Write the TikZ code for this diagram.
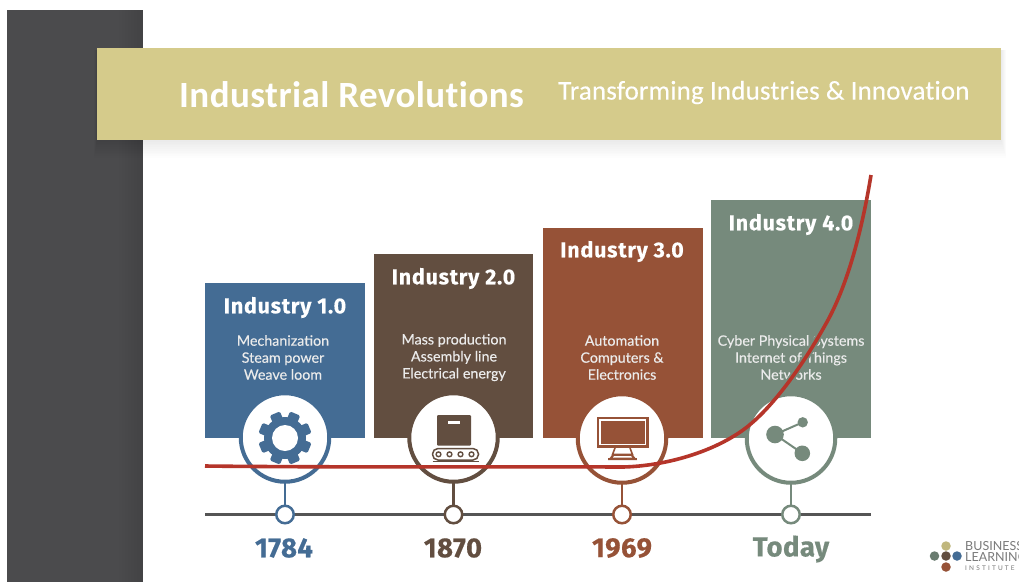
\documentclass[tikz,border=0pt]{standalone}
\usepackage{fontspec}
\setmainfont{Lato}
\newfontfamily\bodyfont{Lato}[FakeBold=0.25]
\newfontfamily\headfont{Fira Sans}[LetterSpace=3.5,BoldFeatures={FakeBold=0.3}]
\newfontfamily\yearfont{Fira Sans}[LetterSpace=1.5,BoldFeatures={FakeBold=0.5}]
\newfontfamily\bannerfont{Carlito}[Ligatures=NoCommon,LetterSpace=1.2]
\newfontfamily\subbannerfont{Carlito}[Ligatures=NoCommon,LetterSpace=0.6,FakeBold=0.3]
\usetikzlibrary{calc}
\definecolor{cblue}{HTML}{446C94}
\definecolor{cbrown}{HTML}{624E40}
\definecolor{crust}{HTML}{965237}
\definecolor{cgreen}{HTML}{768A7C}
\definecolor{cbanner}{HTML}{D5CB8B}
\definecolor{cdark}{HTML}{4B4B4D}
\definecolor{cline}{HTML}{555555}
\definecolor{cred}{HTML}{B5352A}
\definecolor{clogo}{HTML}{7A7A7A}
\tikzset{
  era/.style={rectangle,fill=#1,draw=none,inner sep=0,outer sep=0,anchor=south west},
  eratitle/.style={text=white,font=\headfont\bfseries\fontsize{21.5}{23}\selectfont,inner sep=0},
  erabody/.style={text=white!92!black,font=\bodyfont\fontsize{14.3}{17}\selectfont,align=center,inner sep=0},
  hub/.style={circle,draw=#1,fill=white,line width=4pt,minimum size=88.5pt,inner sep=0,outer sep=0},
  tick/.style={circle,draw=#1,fill=white,line width=2.5pt,minimum size=17.5pt,inner sep=0,outer sep=0},
  stem/.style={draw=#1,line width=2.4pt},
  yearlabel/.style={text=#1,font=\yearfont\bfseries\fontsize{27.5}{29}\selectfont,inner sep=0},
  dot/.style={circle,fill=#1,inner sep=0,minimum size=9.5pt},
  logotext/.style={text=clogo,font=\fontsize{12.5}{13}\selectfont,anchor=west,inner sep=0},
}
\begin{document}
\begin{tikzpicture}[x=1pt,y=-1pt]
\useasboundingbox (0,0) rectangle (1019,582);
\clip (0,0) rectangle (1019,582);
\fill[white] (0,0) rectangle (1019,582);
% left panel
\node[rectangle,fill=cdark,inner sep=0,minimum width=136pt,minimum height=572pt,anchor=north west] (panel) at (7,10) {};
\foreach \i in {1,...,8}{\fill[black,opacity=0.012] ($(panel.north east)+(-3*\i,0)$) rectangle (panel.south east);}
% banner shadow
\foreach \i in {1,...,10}{\fill[black,opacity=0.009] (97-\i*0.3,50) rectangle (1001+\i*0.5,140+\i*1.8);}
\node[rectangle,fill=cbanner,inner sep=0,minimum width=904pt,minimum height=92pt,anchor=north west] (banner) at (97,48) {};
\node[text=white,font=\bannerfont\bfseries\fontsize{37}{39}\selectfont,inner sep=0,anchor=west] (title) at (179,95) {Industrial Revolutions};
\node[text=white,font=\subbannerfont\fontsize{27}{29}\selectfont,inner sep=0,anchor=west] (subtitle) at (558,92.5) {Transforming Industries \& Innovation};
% era boxes
\node[era=cblue,minimum width=160pt,minimum height=155pt] (box1) at (205,438) {};
\node[era=cbrown,minimum width=159pt,minimum height=184pt] (box2) at (374,438) {};
\node[era=crust,minimum width=160pt,minimum height=210pt] (box3) at (543,438) {};
\node[era=cgreen,minimum width=160pt,minimum height=238pt] (box4) at (711,438) {};
\node[eratitle] (t1) at (285,307.5) {Industry 1.0};
\node[eratitle] (t2) at (453.5,278.5) {Industry 2.0};
\node[eratitle] (t3) at (622,251.5) {Industry 3.0};
\node[eratitle] (t4) at (791,224.5) {Industry 4.0};
\node[erabody] (b1) at (283,357.5) {Mechanization\\Steam power\\Weave loom};
\node[erabody] (b2) at (454,357.5) {Mass production\\Assembly line\\Electrical energy};
\node[erabody] (b3) at (622,357.5) {Automation\\Computers \&\\Electronics};
\node[erabody] (b4) at (791,357.5) {Cyber Physical Systems\\Internet of Things\\Networks};
% timeline
\coordinate (tlstart) at (205,514.5);
\coordinate (tlend) at (871,514.5);
\draw[cline,line width=2.2pt] (tlstart) -- (tlend);
\node[hub=cblue] (hub1) at (285,437.5) {};
\node[hub=cbrown] (hub2) at (453.5,437.5) {};
\node[hub=crust] (hub3) at (622,438.5) {};
\node[hub=cgreen] (hub4) at (791,438.5) {};
\node[tick=cblue] (tick1) at (285,514.5) {};
\node[tick=cbrown] (tick2) at (453.5,514.5) {};
\node[tick=crust] (tick3) at (622,514.5) {};
\node[tick=cgreen] (tick4) at (791,514.5) {};
\draw[stem=cblue] (hub1) -- (tick1);
\draw[stem=cbrown] (hub2) -- (tick2);
\draw[stem=crust] (hub3) -- (tick3);
\draw[stem=cgreen] (hub4) -- (tick4);
\node[yearlabel=cblue] (y1) at (284,548) {1784};
\node[yearlabel=cbrown] (y2) at (453,548) {1870};
\node[yearlabel=crust] (y3) at (622,548) {1969};
\node[yearlabel=cgreen] (y4) at (791,549) {Today};
% gear
\begin{scope}[shift={(285,438)}]
  \fill[cblue] (0,0) circle (21);
  \foreach \a in {22.5,67.5,...,337.5}{
    \fill[cblue,rounded corners=1.5pt,rotate=\a] (-5.5,-16) rectangle (5.5,-26.5);
  }
  \fill[white] (0,0) circle (13);
\end{scope}
% conveyor
\begin{scope}[shift={(453.5,439)}]
  \fill[cbrown,rounded corners=1pt] (-16.5,-24) rectangle (17.5,6.5);
  \fill[white] (-5.5,-18) rectangle (6,-15.5);
  \draw[cbrown,line width=1.5pt,rounded corners=5.5pt] (-21,9.5) rectangle (25,21);
  \foreach \x in {-15,-4,7,18}{\draw[cbrown,line width=1.4pt] (\x,15.3) circle (2.4);}
  \draw[cbrown,line width=1.5pt] (-21,22.5) -- (25,22.5);
\end{scope}
% monitor
\begin{scope}[shift={(622,439)}]
  \fill[crust] (-25.5,-22.5) rectangle (26.5,8.5);
  \fill[white] (-23,-20) rectangle (24,6);
  \fill[crust] (-21.5,-18.5) rectangle (22.5,4.5);
  \draw[crust,line width=1.6pt] (-7,9) -- (-9.5,15.5) -- (10.5,15.5) -- (8,9);
  \draw[crust,line width=2pt] (-14,20) -- (15,20);
  \fill[crust] (-14,21) -- (-9.5,15.5) -- (10.5,15.5) -- (15,21) -- cycle;
  \fill[white] (-8,17) -- (9,17) -- (10,18.5) -- (-9,18.5) -- cycle;
\end{scope}
% share
\coordinate (shareA) at (775,434.5);
\coordinate (shareB) at (802.7,422.3);
\coordinate (shareC) at (802.3,453.3);
\draw[cgreen,line width=2pt] (shareB) -- (shareA) -- (shareC);
\fill[cgreen] (shareA) circle (8.8);
\fill[cgreen] (shareB) circle (5.2);
\fill[cgreen] (shareC) circle (7.8);
% growth curve
\def\growth{(205,466) .. controls (330,467.5) and (500,466.5) .. (623,467)
  .. controls (665,466) and (715,452) .. (747,427)
  .. controls (775,405) and (805,362) .. (828,320)
  .. controls (848,283) and (862,230) .. (871,175)}
\begin{scope}
  \clip (711,200) rectangle (871,392);
  \draw[cgreen,line width=7pt] \growth;
\end{scope}
\draw[cred,line width=3.6pt] \growth;
% logo
\node[dot=cbanner!90!black] (ld1) at (946,546) {};
\node[dot=cgreen!90!black] (ld2) at (934.5,556) {};
\node[dot=cbrown] (ld3) at (946,556) {};
\node[dot=cblue] (ld4) at (957,556) {};
\node[dot=crust] (ld5) at (946,567) {};
\node[logotext] (l1) at (965,546) {BUSINESS};
\node[logotext] (l2) at (965,557) {LEARNING};
\node[logotext,font=\fontsize{6.5}{7}\selectfont] (l3) at (965,568) {I\,\,N\,\,S\,\,T\,\,I\,\,T\,\,U\,\,T\,\,E};
\end{tikzpicture}
\end{document}
